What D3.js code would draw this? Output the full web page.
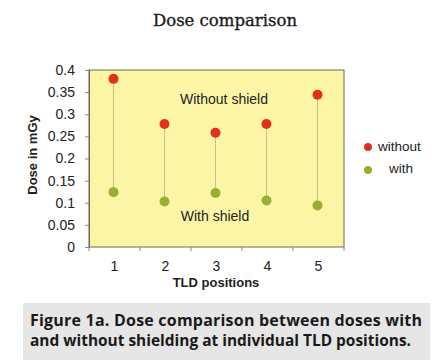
<!DOCTYPE html>
<html><head><meta charset="utf-8">
<script src="https://cdn.jsdelivr.net/npm/d3@7"></script>
<style>body{margin:0;background:#fff;}svg{display:block;}</style>
</head><body>
<script>
const positions = ["1","2","3","4","5"];
const without = [0.38, 0.278, 0.258, 0.278, 0.344];
const withShield = [0.124, 0.103, 0.122, 0.105, 0.094];
const yTicks = [0,0.05,0.1,0.15,0.2,0.25,0.3,0.35,0.4];

const W=439,H=360;
const svg=d3.select("body").append("svg").attr("width",W).attr("height",H);
const m={l:89,r:344,t:70,b:247};
const x=d3.scaleBand().domain(positions).range([m.l,m.r]);
const y=d3.scaleLinear().domain([0,0.4]).range([m.b,m.t]);
const sans="'Liberation Sans', Arial, sans-serif";

svg.append("text").attr("x",225).attr("y",26).attr("text-anchor","middle")
  .attr("font-family","'DejaVu Serif', 'Liberation Serif', serif").attr("font-size",16.5).attr("fill","#1a1a1a")
  .attr("stroke","#1a1a1a").attr("stroke-width",0.35)
  .text("Dose comparison");

svg.append("rect").attr("x",m.l).attr("y",m.t).attr("width",m.r-m.l).attr("height",m.b-m.t)
  .attr("fill","#fdf5a6").attr("stroke","#6b6a50").attr("stroke-width",1);

const ya=svg.append("g").attr("transform",`translate(${m.l},0)`)
  .call(d3.axisLeft(y).tickValues(yTicks).tickSize(4).tickPadding(10).tickFormat(d=>d3.format("")(+d.toFixed(2))));
ya.select(".domain").attr("stroke","#6b6a50");
ya.selectAll("line").attr("stroke","#888");
ya.selectAll("text").attr("font-family",sans).attr("font-size",14).attr("fill","#222");

const xa=svg.append("g").attr("transform",`translate(0,${m.b})`)
  .call(d3.axisBottom(x).tickSize(0).tickPadding(14));
xa.select(".domain").remove();
xa.selectAll("text").attr("font-family",sans).attr("font-size",14).attr("fill","#222");
const bounds=positions.map(p=>x(p)).concat([x.range()[1]]);
svg.append("g").selectAll("line").data(bounds).join("line")
  .attr("x1",d=>d).attr("x2",d=>d).attr("y1",m.b).attr("y2",m.b+4).attr("stroke","#888");

svg.append("text").attr("x",216).attr("y",287).attr("text-anchor","middle")
  .attr("font-family",sans).attr("font-weight","bold").attr("font-size",13).attr("fill","#222")
  .text("TLD positions");
svg.append("text").attr("transform","translate(37,155) rotate(-90)").attr("text-anchor","middle")
  .attr("font-family",sans).attr("font-weight","bold").attr("font-size",13).attr("fill","#222")
  .text("Dose in mGy");

const cx=d=>x(d)+x.bandwidth()/2-1;
svg.append("g").selectAll("line").data(positions).join("line")
  .attr("x1",(d)=>cx(d)).attr("x2",d=>cx(d))
  .attr("y1",(d,i)=>y(without[i])).attr("y2",(d,i)=>y(withShield[i]))
  .attr("stroke","#c9c084").attr("stroke-width",1);
svg.append("g").selectAll("circle").data(positions).join("circle")
  .attr("cx",cx).attr("cy",(d,i)=>y(without[i])).attr("r",5).attr("fill","#e0321a");
svg.append("g").selectAll("circle").data(positions).join("circle")
  .attr("cx",cx).attr("cy",(d,i)=>y(withShield[i])).attr("r",5).attr("fill","#98ae35");

svg.append("text").attr("x",224).attr("y",104).attr("text-anchor","middle")
  .attr("font-family",sans).attr("font-size",14).attr("fill","#222").text("Without shield");
svg.append("text").attr("x",215).attr("y",221).attr("text-anchor","middle")
  .attr("font-family",sans).attr("font-size",14).attr("fill","#222").text("With shield");

svg.append("circle").attr("cx",368).attr("cy",147).attr("r",4).attr("fill","#e0321a");
svg.append("circle").attr("cx",368).attr("cy",170).attr("r",4).attr("fill","#98ae35");
svg.append("text").attr("x",378).attr("y",151).attr("font-family",sans).attr("font-size",13.5).attr("fill","#222").text("without");
svg.append("text").attr("x",389).attr("y",173).attr("font-family",sans).attr("font-size",13.5).attr("fill","#222").text("with");

svg.append("rect").attr("x",23).attr("y",303).attr("width",407).attr("height",57).attr("fill","#e6e6e6");
svg.append("text").attr("x",30).attr("y",326).attr("textLength",392).attr("lengthAdjust","spacing")
  .attr("font-family","'Open Sans', 'Noto Sans', sans-serif").attr("font-weight",700).attr("font-size",16).attr("fill","#1a1a1a")
  .text("Figure 1a. Dose comparison between doses with");
svg.append("text").attr("x",30).attr("y",346).attr("textLength",381).attr("lengthAdjust","spacingAndGlyphs")
  .attr("font-family","'Open Sans', 'Noto Sans', sans-serif").attr("font-weight",700).attr("font-size",16).attr("fill","#1a1a1a")
  .text("and without shielding at individual TLD positions.");
</script>
</body></html>
